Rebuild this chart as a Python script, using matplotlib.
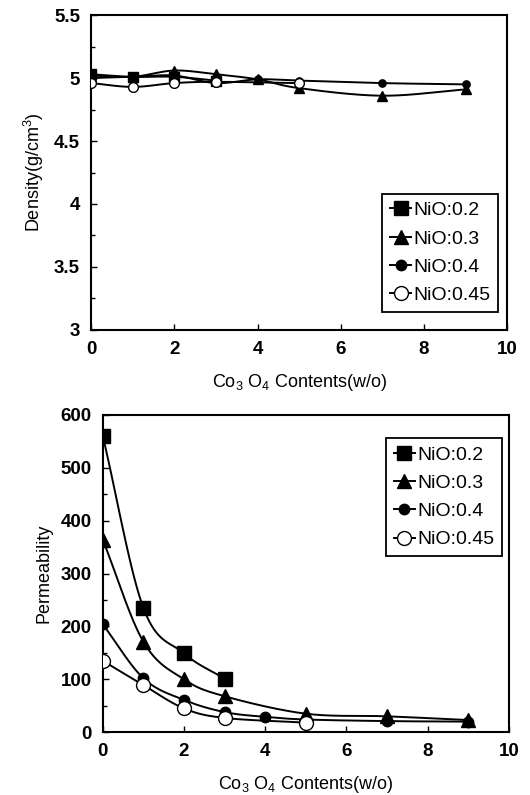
import numpy as np
import matplotlib
matplotlib.use("Agg")
import matplotlib.pyplot as plt
from matplotlib.ticker import MultipleLocator, FormatStrFormatter

plt.rcParams['font.family'] = ['Liberation Sans', 'DejaVu Sans']

labels = ["NiO:0.2", "NiO:0.3", "NiO:0.4", "NiO:0.45"]

# density (g/cm3)
dens_x_02 = [0, 1, 2, 3]
dens_y_02 = [5.03, 5.01, 5.01, 4.98]
dens_x_03 = [0, 1, 2, 3, 4, 5, 7, 9]
dens_y_03 = [5.02, 5.01, 5.06, 5.03, 4.99, 4.92, 4.86, 4.91]
dens_x_04 = [0, 1, 2, 3, 4, 5, 7, 9]
dens_y_04 = [5.0, 5.01, 5.02, 4.96, 4.99, 4.98, 4.96, 4.95]
dens_x_045 = [0, 1, 2, 3, 5]
dens_y_045 = [4.96, 4.93, 4.96, 4.97, 4.96]

# permeability
perm_x_02 = [0, 1, 2, 3]
perm_y_02 = [560, 235, 149, 101]
perm_x_03 = [0, 1, 2, 3, 5, 7, 9]
perm_y_03 = [364, 171, 100, 68, 35, 30, 23]
perm_x_04 = [0, 1, 2, 3, 4, 5, 7, 9]
perm_y_04 = [204, 102, 61, 38, 29, 24, 21, 20]
perm_x_045 = [0, 1, 2, 3, 5]
perm_y_045 = [135, 89, 45, 27, 18]


def smooth(x, y, n=30):
    # catmull-rom through the points, like the spreadsheet "smoothed line"
    x = np.asarray(x, float)
    y = np.asarray(y, float)
    px = np.concatenate([[2 * x[0] - x[1]], x, [2 * x[-1] - x[-2]]])
    py = np.concatenate([[2 * y[0] - y[1]], y, [2 * y[-1] - y[-2]]])
    xs, ys = [], []
    t = np.linspace(0, 1, n)
    for i in range(1, len(px) - 2):
        for p, out in ((px, xs), (py, ys)):
            p0, p1, p2, p3 = p[i - 1], p[i], p[i + 1], p[i + 2]
            out.extend(0.5 * ((2 * p1) + (-p0 + p2) * t
                              + (2 * p0 - 5 * p1 + 4 * p2 - p3) * t ** 2
                              + (-p0 + 3 * p1 - 3 * p2 + p3) * t ** 3))
    return xs, ys


styles = [
    dict(marker='s', mfc='black', ms_scale=1.0),
    dict(marker='^', mfc='black', ms_scale=1.0),
    dict(marker='o', mfc='black', ms_scale=0.75),
    dict(marker='o', mfc='white', ms_scale=1.0),
]

fig = plt.figure(figsize=(5.3, 7.95), dpi=100)
ax1 = fig.add_axes([0.172, 0.585, 0.785, 0.396])
ax2 = fig.add_axes([0.194, 0.079, 0.766, 0.399])


def draw(ax, data, ms, loc, anchor):
    for (x, y), st, lab in zip(data, styles, labels):
        sx, sy = smooth(x, y)
        ax.plot(sx, sy, color='black', lw=1.4, zorder=2)
        ax.plot(x, y, ls='none', marker=st['marker'], mfc=st['mfc'], mec='black',
                mew=1.0, ms=ms * st['ms_scale'], zorder=3)
        ax.plot([], [], color='black', lw=1.4, marker=st['marker'], mfc=st['mfc'],
                mec='black', ms=10 * st['ms_scale'], label=lab)
    ax.set_xlim(0, 10)
    ax.xaxis.set_major_locator(MultipleLocator(2))
    ax.tick_params(direction='in', which='both', labelsize=13.5, width=1, length=4, pad=8)
    ax.tick_params(which='minor', length=3)
    for s in ax.spines.values():
        s.set_linewidth(1.5)
    ax.set_xlabel(r'Co$_\mathregular{3}$ O$_\mathregular{4}$ Contents(w/o)', fontsize=13, labelpad=10)
    leg = ax.legend(fontsize=14, handlelength=1.1, handletextpad=0.1, borderpad=0.4,
                    labelspacing=0.55, fancybox=False, edgecolor='black',
                    framealpha=1, loc=loc, bbox_to_anchor=anchor, borderaxespad=0)
    leg.get_frame().set_linewidth(1.3)


draw(ax1, [(dens_x_02, dens_y_02), (dens_x_03, dens_y_03),
           (dens_x_04, dens_y_04), (dens_x_045, dens_y_045)], 7,
     'lower right', (0.978, 0.057))
ax1.set_ylim(3, 5.5)
ax1.yaxis.set_major_locator(MultipleLocator(0.5))
ax1.yaxis.set_minor_locator(MultipleLocator(0.25))
ax1.yaxis.set_major_formatter(FormatStrFormatter('%g'))
ax1.set_ylabel(r'Density(g/cm$^\mathregular{3}$)', fontsize=13, labelpad=6)

draw(ax2, [(perm_x_02, perm_y_02), (perm_x_03, perm_y_03),
           (perm_x_04, perm_y_04), (perm_x_045, perm_y_045)], 10,
     'upper right', (0.983, 0.927))
ax2.set_ylim(0, 600)
ax2.yaxis.set_major_locator(MultipleLocator(100))
ax2.yaxis.set_minor_locator(MultipleLocator(50))
ax2.set_ylabel('Permeability', fontsize=13, labelpad=6)

for ax in (ax1, ax2):
    for lab in ax.get_xticklabels() + ax.get_yticklabels():
        lab.set_fontweight('bold')

fig.savefig('out.png', dpi=100)
